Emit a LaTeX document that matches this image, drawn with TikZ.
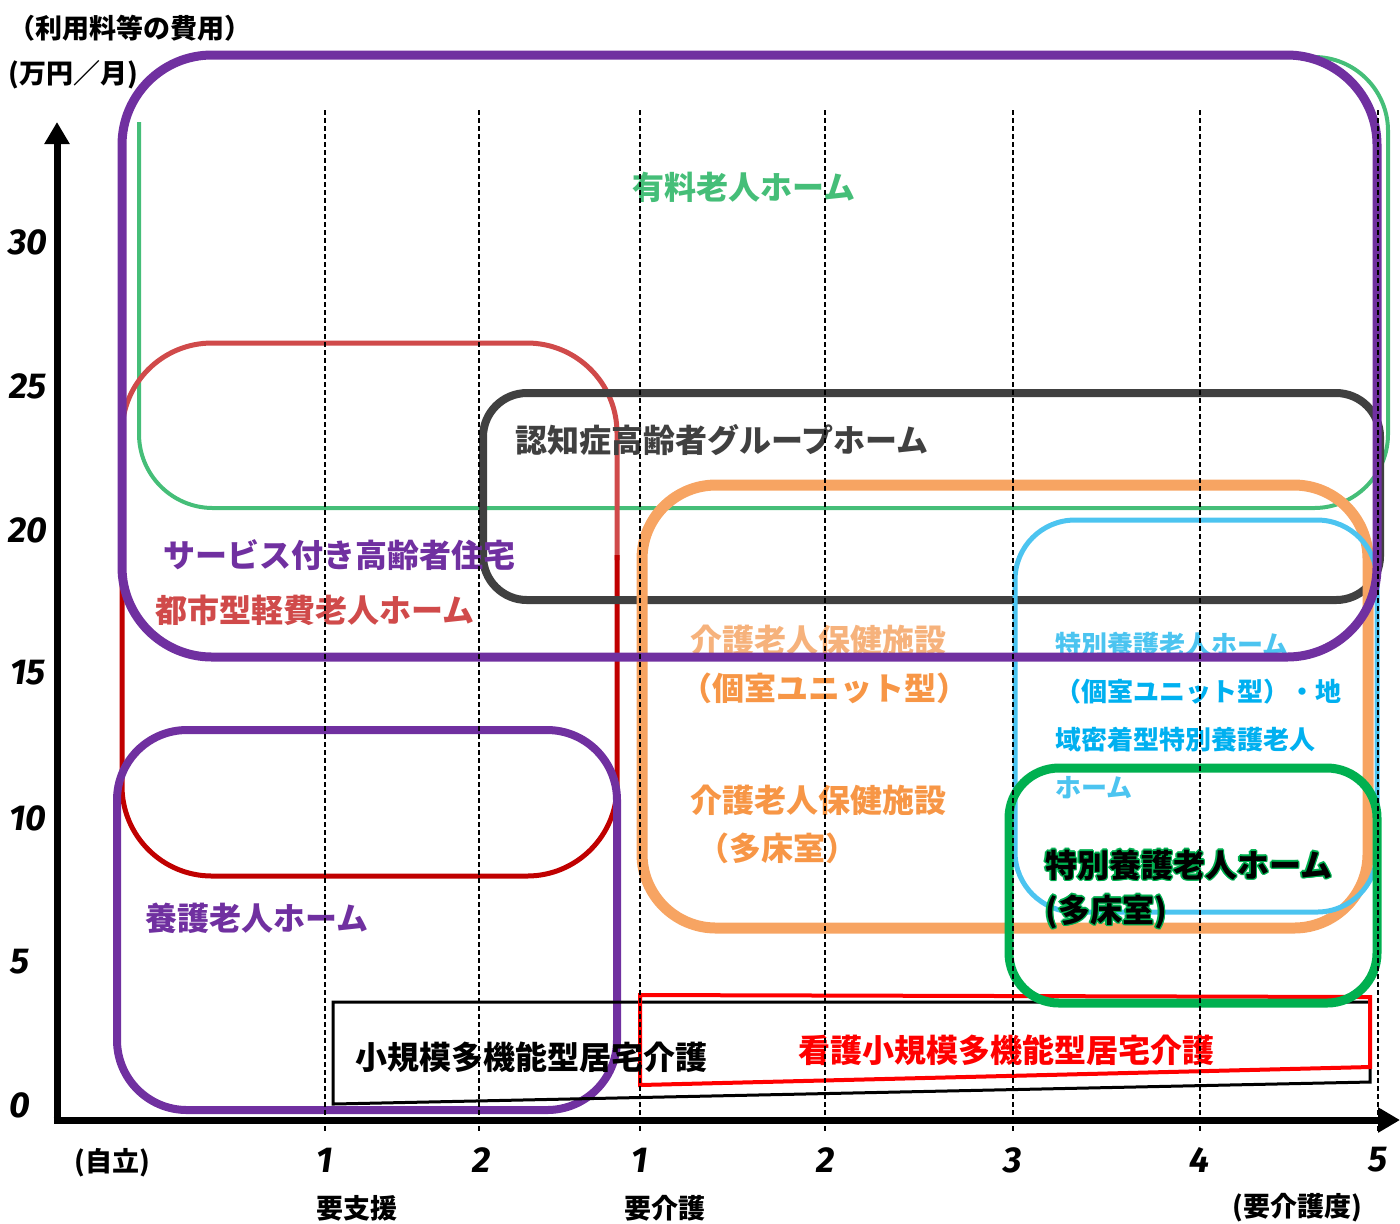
\documentclass[tikz,border=0pt]{standalone}
\usepackage{fontspec}
\usetikzlibrary{arrows.meta}
\newfontfamily\jpfont{Noto Sans CJK JP}[UprightFont=* Black]
\newfontfamily\numfont{Fira Sans}

\definecolor{kpurple}{HTML}{7030A0}
\definecolor{kgreenlt}{HTML}{45BE78}
\definecolor{kgreen}{HTML}{00B050}
\definecolor{kredlt}{HTML}{D04A4A}
\definecolor{kred}{HTML}{C00000}
\definecolor{kgray}{HTML}{404040}
\definecolor{korange}{HTML}{F7A462}
\definecolor{korangetx}{HTML}{F79646}
\definecolor{korangelt}{HTML}{F6B27C}
\definecolor{kblue}{HTML}{4CC4F0}
\definecolor{kbluetx}{HTML}{00B0F0}

\tikzset{
  lbl/.style={anchor=west, inner sep=0pt, font=\jpfont\fontsize{16}{16}\selectfont},
  smalllbl/.style={anchor=west, inner sep=0pt, font=\jpfont\fontsize{13}{13}\selectfont, text=kbluetx},
  axlbl/.style={inner sep=0pt, font=\jpfont\fontsize{13.5}{13.5}\selectfont},
  numlbl/.style={inner sep=0pt, font=\numfont\bfseries\itshape\fontsize{18}{18}\selectfont},
  guide/.style={black, line width=0.65pt, dash pattern=on 2.5pt off 1.5pt},
  axis/.style={line width=3.5pt, -{Triangle[length=11pt,width=12pt]}},
}

\begin{document}
\begin{tikzpicture}[x=0.5pt,y=-0.5pt]
	\tikzstyle{every node}=[scale=1.0000]
	\useasboundingbox (0,0) rectangle (1400,1223);

	% ranges
	\draw [line width=2pt, kgreenlt, rounded corners=37pt] (139,122) -- (139,508) -- (1388,508) -- (1388,57) -- (1280,57);
	\draw [line width=2.5pt, kredlt, rounded corners=45pt] (122,560) -- (122,343) -- (617,343) -- (617,560);
	\draw [line width=2.5pt, kred, rounded corners=45pt] (617,555) -- (617,876) -- (122,876) -- (122,555);
	\draw [line width=4pt, kgray, rounded corners=22pt] (483,393) rectangle (1380,600);
	\draw [line width=5.5pt, korange, rounded corners=37pt] (642,485) rectangle (1368,928);
	\draw [line width=2.5pt, kblue, rounded corners=30pt] (1015,520) rectangle (1377,912);
	\draw [line width=4pt, kpurple, rounded corners=35pt] (117,730) rectangle (617,1110);
	\draw [line width=1.5pt, black] (333,1002) -- (1370,1002) -- (1370,1082) -- (333,1104) -- cycle;
	\draw [line width=2pt, red] (640,995) -- (1370,997) -- (1370,1067) -- (640,1085) -- cycle;
	\draw [line width=4.5pt, kgreen, rounded corners=25pt] (1009,768) rectangle (1377,1003);

	% labels
	\node [lbl, text=kgreenlt] (yuryo) at (632,187) {有料老人ホーム};
	\node [lbl, text=kgray] (ninchi) at (515,440) {認知症高齢者グループホーム};
	\node [lbl, text=kpurple] (sakoju) at (163,555) {サービス付き高齢者住宅};
	\node [lbl, text=kredlt] (toshi) at (155,610) {都市型軽費老人ホーム};
	\node [lbl, text=korangelt] (rokenunit) at (690,640) {介護老人保健施設};
	\node [lbl, text=korangetx] (rokenunitb) at (680,688) {（個室ユニット型）};
	\node [lbl, text=korangetx] (roken) at (690,800) {介護老人保健施設};
	\node [lbl, text=korangetx] (rokentasho) at (697,848) {（多床室）};
	\node [smalllbl, text=kblue] (tokuunit) at (1055,645) {特別養護老人ホーム};
	\node [smalllbl] (tokuunitb) at (1055,692) {（個室ユニット型）・地};
	\node [smalllbl] (tokuunitc) at (1055,740) {域密着型特別養護老人};
	\node [smalllbl, text=kblue] (tokuunitd) at (1055,788) {ホーム};
	\foreach \dx/\dy [count=\i] in {-1.5/0,1.5/0,0/-1.5,0/1.5,-1.1/-1.1,1.1/1.1,-1.1/1.1,1.1/-1.1}{
		\node [lbl, text=kgreen] (tokuhalo\i) at (1045+\dx,865+\dy) {特別養護老人ホーム};
		\node [lbl, text=kgreen] (tasyohalo\i) at (1045+\dx,912+\dy) {(多床室)};
	}
	\node [lbl, text=black] (tokutasho) at (1045,865) {特別養護老人ホーム};
	\node [lbl, text=black] (tokutashob) at (1045,912) {(多床室)};
	\node [lbl, text=kpurple] (yougo) at (145,918) {養護老人ホーム};
	\node [lbl, text=black] (shoki) at (355,1057) {小規模多機能型居宅介護};
	\node [lbl, text=red] (kango) at (798,1050) {看護小規模多機能型居宅介護};

	\draw [line width=4.5pt, kpurple, rounded corners=45pt] (122,55) rectangle (1377,657);

	% axes
	\coordinate (origin) at (57,1120);
	\coordinate (ytop) at (57,122);
	\coordinate (xend) at (1400,1120);
	\draw [axis] ([yshift=-1.75pt]origin) -- (ytop);
	\draw [axis] ([xshift=-1.75pt]origin) -- (xend);

	\foreach \xx in {325,479,640,825,1013,1200,1378}
		\draw [guide] (\xx,110) -- (\xx,1133);

	\node [axlbl, anchor=west] (title) at (8,28) {（利用料等の費用）};
	\node [axlbl, anchor=west] (unit) at (8,75) {(万円／月)};

	\foreach \v/\xx/\yy in {0/20/1105,5/20/962,10/28/818,15/28/673,20/28/530,25/28/386,30/28/242}
		\node [numlbl] (y\v) at (\xx,\yy) {\v};
	\foreach \n/\xx [count=\i] in {1/325,2/482,1/640,2/826,3/1013,4/1199,5/1378}
		\node [numlbl] (x\i) at (\xx,1160) {\n};

	\node [axlbl] (jiritsu) at (112,1163) {(自立)};
	\node [axlbl] (yoshien) at (357,1208) {要支援};
	\node [axlbl] (yokaigo) at (665,1208) {要介護};
	\node [axlbl] (yokaigodo) at (1297,1208) {(要介護度)};

\end{tikzpicture}
\end{document}
